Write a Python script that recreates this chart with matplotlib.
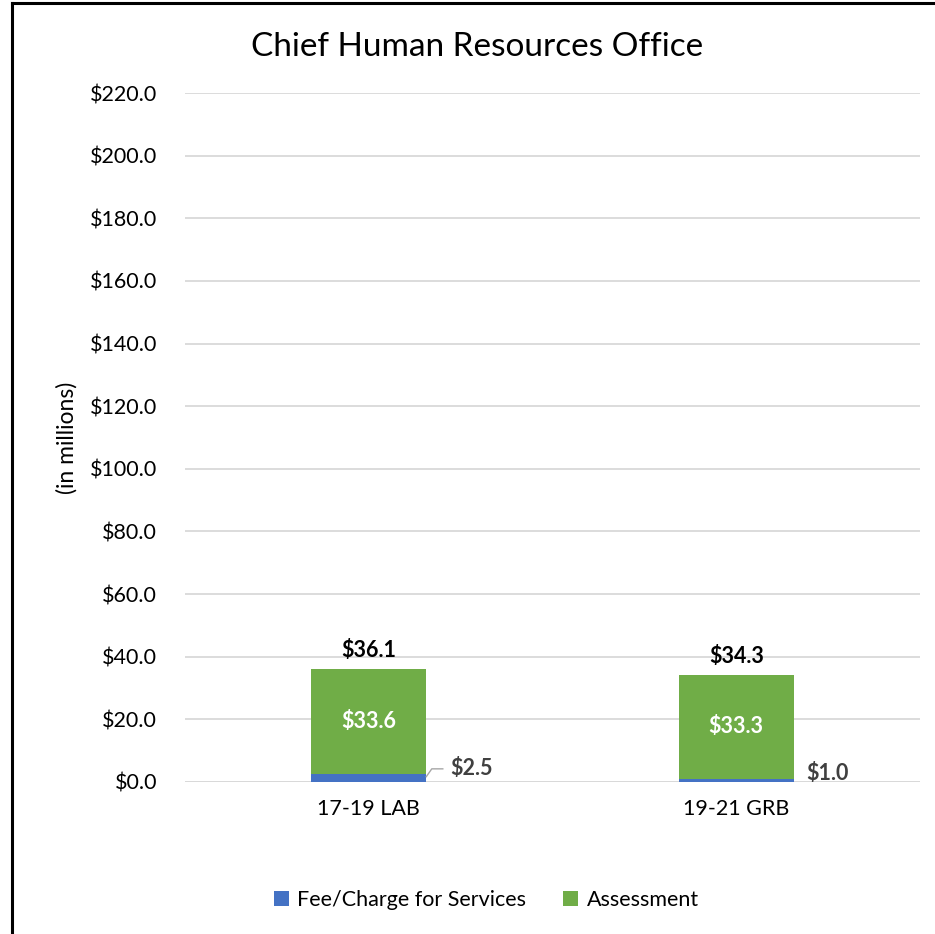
import numpy as np
import matplotlib.pyplot as plt
from matplotlib.lines import Line2D

plt.rcParams['font.family'] = ['Lato', 'DejaVu Sans']

categories = ['17-19 LAB', '19-21 GRB']
fee = [2.5, 1.0]
assessment = [33.6, 33.3]
totals = [36.1, 34.3]

blue = '#4472C4'
green = '#70AD47'

fig = plt.figure(figsize=(9.35, 9.34), dpi=100)
ax = fig.add_axes([185 / 935, 1 - 782 / 934, 735 / 935, (782 - 93) / 934])

x = np.arange(len(categories))
w = 0.313
b1 = ax.bar(x, fee, w, color=blue, label='Fee/Charge for Services', zorder=3)
b2 = ax.bar(x, assessment, w, bottom=fee, color=green, label='Assessment', zorder=3)

ax.set_xlim(-0.5, 1.5)
ax.set_ylim(0, 220)
ax.set_yticks(np.arange(0, 221, 20))
ax.set_yticklabels(['${:.1f}'.format(v) for v in np.arange(0, 221, 20)])
ax.set_xticks(x)
ax.set_xticklabels(categories)
ax.tick_params(axis='both', length=0, labelsize=15.5, colors='black')
ax.tick_params(axis='y', pad=20)
ax.tick_params(axis='x', pad=12)
ax.grid(axis='y', color='#D9D9D9', linewidth=1.3, zorder=0)
for s in ax.spines.values():
    s.set_visible(False)
ax.axhline(0, color='#D9D9D9', linewidth=1.3, zorder=1)

ax.set_ylabel('(in millions)', fontsize=16.5, labelpad=9)
fig.text(0.51, 1 - 47 / 934, 'Chief Human Resources Office', fontsize=24, ha='center', va='center')

# labels
for i in range(len(categories)):
    ax.text(x[i], totals[i] + 5.8, '${:.1f}'.format(totals[i]), ha='center', va='center',
            fontsize=15.5, fontweight='bold')
    ax.text(x[i], fee[i] + assessment[i] / 2, '${:.1f}'.format(assessment[i]), ha='center',
            va='center', fontsize=15.5, fontweight='bold', color='white')

# fee labels
ax.plot([x[0] + w / 2, x[0] + w / 2 + 0.015, x[0] + w / 2 + 0.045],
        [fee[0] - 0.8, fee[0] + 1.7, fee[0] + 1.7], color='#A6A6A6', lw=1, zorder=4)
ax.text(x[0] + w / 2 + 0.065, fee[0] + 1.7, '${:.1f}'.format(fee[0]), ha='left', va='center',
        fontsize=15.5, fontweight='bold', color='#404040')
ax.text(x[1] + w / 2 + 0.035, fee[1] + 1.6, '${:.1f}'.format(fee[1]), ha='left', va='center',
        fontsize=15.5, fontweight='bold', color='#404040')

fig.legend(handles=[b1, b2], loc='center', bbox_to_anchor=(0.52, 1 - 900 / 934), ncol=2,
           frameon=False, fontsize=15.5, handlelength=0.7, handleheight=0.7, columnspacing=1.7,
           handletextpad=0.4)

# border (left and top only)
fig.add_artist(Line2D([12 / 935, 12 / 935], [0, 1 - 3 / 934], color='black', lw=2.2,
                      transform=fig.transFigure))
fig.add_artist(Line2D([12 / 935, 1], [1 - 3 / 934, 1 - 3 / 934], color='black', lw=2.2,
                      transform=fig.transFigure))

fig.savefig('out.png', dpi=100)
